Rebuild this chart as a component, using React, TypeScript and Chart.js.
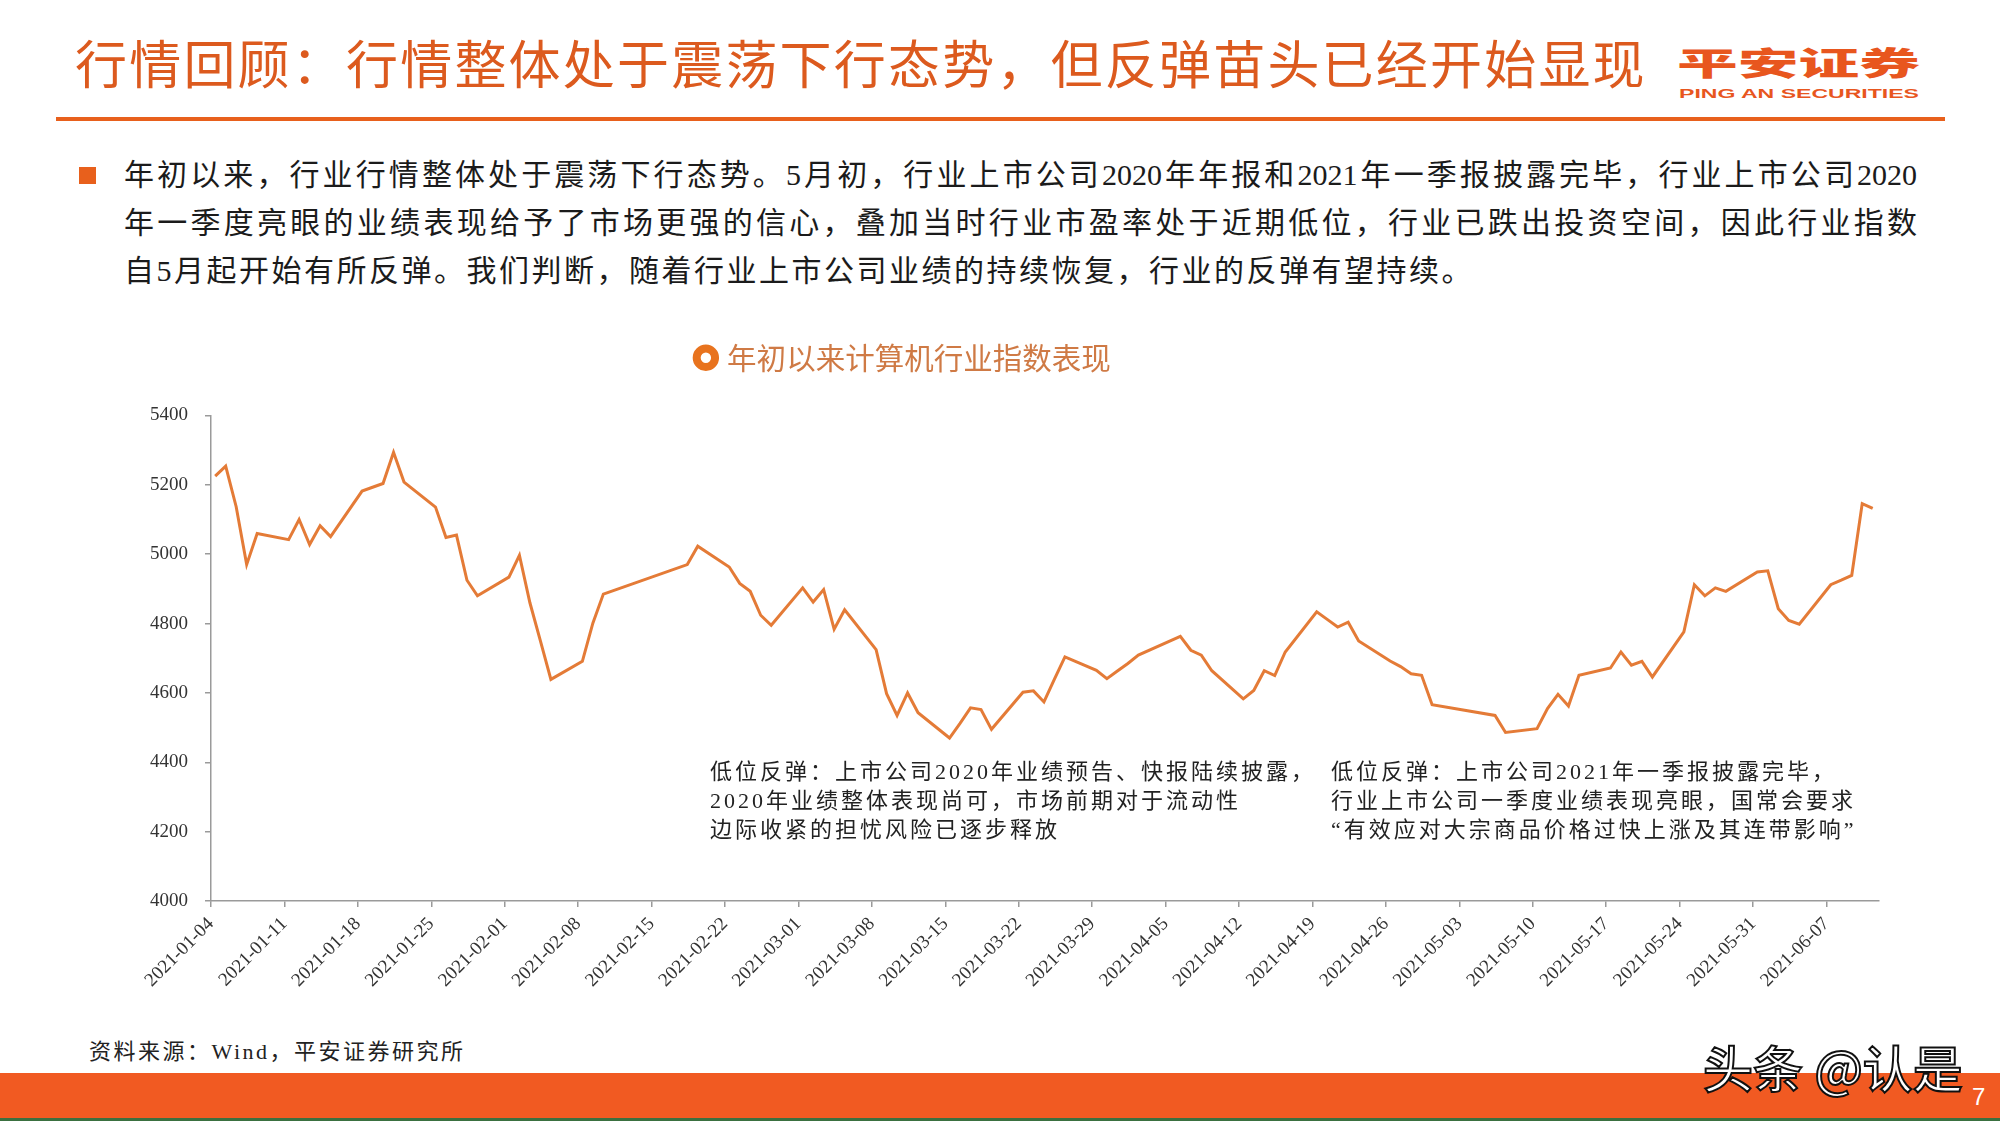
import React, { useEffect, useRef } from "react";
import { Chart, registerables } from "chart.js";

Chart.register(...registerables);

// ---------- data ----------
const seriesName = "年初以来计算机行业指数表现";

const dates = [
  "2021-01-04", "2021-01-05", "2021-01-06", "2021-01-07", "2021-01-08",
  "2021-01-11", "2021-01-12", "2021-01-13", "2021-01-14", "2021-01-15",
  "2021-01-18", "2021-01-19", "2021-01-20", "2021-01-21", "2021-01-22",
  "2021-01-25", "2021-01-26", "2021-01-27", "2021-01-28", "2021-01-29",
  "2021-02-01", "2021-02-02", "2021-02-03", "2021-02-04", "2021-02-05",
  "2021-02-08", "2021-02-09", "2021-02-10", "2021-02-18", "2021-02-19",
  "2021-02-22", "2021-02-23", "2021-02-24", "2021-02-25", "2021-02-26",
  "2021-03-01", "2021-03-02", "2021-03-03", "2021-03-04", "2021-03-05",
  "2021-03-08", "2021-03-09", "2021-03-10", "2021-03-11", "2021-03-12",
  "2021-03-15", "2021-03-16", "2021-03-17", "2021-03-18", "2021-03-19",
  "2021-03-22", "2021-03-23", "2021-03-24", "2021-03-25", "2021-03-26",
  "2021-03-29", "2021-03-30", "2021-03-31", "2021-04-01", "2021-04-02",
  "2021-04-06", "2021-04-07", "2021-04-08", "2021-04-09",
  "2021-04-12", "2021-04-13", "2021-04-14", "2021-04-15", "2021-04-16",
  "2021-04-19", "2021-04-20", "2021-04-21", "2021-04-22", "2021-04-23",
  "2021-04-26", "2021-04-27", "2021-04-28", "2021-04-29", "2021-04-30",
  "2021-05-06", "2021-05-07",
  "2021-05-10", "2021-05-11", "2021-05-12", "2021-05-13", "2021-05-14",
  "2021-05-17", "2021-05-18", "2021-05-19", "2021-05-20", "2021-05-21",
  "2021-05-24", "2021-05-25", "2021-05-26", "2021-05-27", "2021-05-28",
  "2021-05-31", "2021-06-01", "2021-06-02", "2021-06-03", "2021-06-04",
  "2021-06-07", "2021-06-08", "2021-06-09", "2021-06-10", "2021-06-11",
];

const values = [
  5225, 5254, 5137, 4970, 5060,
  5042, 5100, 5028, 5082, 5051,
  5182, 5193, 5204, 5294, 5208,
  5136, 5048, 5055, 4925, 4880,
  4934, 4997, 4860, 4750, 4639,
  4691, 4801, 4885, 4970, 5023,
  4963, 4916, 4893, 4824, 4795,
  4903, 4862, 4898, 4784, 4840,
  4725, 4598, 4535, 4600, 4543,
  4470, 4512, 4557, 4552, 4495,
  4602, 4606, 4574, 4640, 4704,
  4665, 4641, 4663, 4685, 4709,
  4763, 4723, 4709, 4664,
  4583, 4607, 4664, 4650, 4718,
  4834, 4812, 4790, 4804, 4750,
  4692, 4676, 4655, 4651, 4566,
  4535, 4486,
  4497, 4555, 4596, 4562, 4651,
  4672, 4718, 4680, 4691, 4646,
  4776, 4912, 4880, 4903, 4893,
  4949, 4952, 4843, 4809, 4798,
  4912, 4925, 4939, 5146, 5132,
];

const tickDates = [
  "2021-01-04", "2021-01-11", "2021-01-18", "2021-01-25", "2021-02-01",
  "2021-02-08", "2021-02-15", "2021-02-22", "2021-03-01", "2021-03-08",
  "2021-03-15", "2021-03-22", "2021-03-29", "2021-04-05", "2021-04-12",
  "2021-04-19", "2021-04-26", "2021-05-03", "2021-05-10", "2021-05-17",
  "2021-05-24", "2021-05-31", "2021-06-07",
];

const axisStart = "2021-01-04";
const axisEnd = "2021-06-12";
const yMin = 4000;
const yMax = 5400;
const yStep = 200;

const titleText = "行情回顾：行情整体处于震荡下行态势，但反弹苗头已经开始显现";
const paraLines = [
  "年初以来，行业行情整体处于震荡下行态势。5月初，行业上市公司2020年年报和2021年一季报披露完毕，行业上市公司2020",
  "年一季度亮眼的业绩表现给予了市场更强的信心，叠加当时行业市盈率处于近期低位，行业已跌出投资空间，因此行业指数",
  "自5月起开始有所反弹。我们判断，随着行业上市公司业绩的持续恢复，行业的反弹有望持续。",
];
const note1 = [
  "低位反弹：上市公司2020年业绩预告、快报陆续披露，",
  "2020年业绩整体表现尚可，市场前期对于流动性",
  "边际收紧的担忧风险已逐步释放",
];
const note2 = [
  "低位反弹：上市公司2021年一季报披露完毕，",
  "行业上市公司一季度业绩表现亮眼，国常会要求",
  "“有效应对大宗商品价格过快上涨及其连带影响”",
];
const sourceText = "资料来源：Wind，平安证券研究所";

// ---------- helpers ----------
const DAY = 86400000;
// daily points sit slightly inside their day slot, as in the source chart
const POINT_OFFSET = 0.4;
const dayOf = (d: string) => (Date.parse(d) - Date.parse(axisStart)) / DAY;
const fmtDay = (v: number) =>
  new Date(Date.parse(axisStart) + Math.round(v) * DAY).toISOString().slice(0, 10);

const ORANGE = "#E8601C";
const SERIF = "'Liberation Serif', 'Noto Sans CJK SC', serif";
const CJK = "'Noto Sans CJK SC', sans-serif";

const CANVAS_LEFT = -69;
const CANVAS_TOP = 289;
const CANVAS_W = 1968;
const CANVAS_H = 722;

export default function App() {
  const ref = useRef<HTMLCanvasElement>(null);

  useEffect(() => {
    if (!ref.current) return;
    const chart = new Chart(ref.current, {
      type: "line",
      data: {
        datasets: [
          {
            label: seriesName,
            data: dates.map((d, i) => ({ x: dayOf(d) + POINT_OFFSET, y: values[i] })),
            borderColor: "#E47B37",
            backgroundColor: "#ffffff",
            borderWidth: 3,
            pointRadius: 0,
            pointHoverRadius: 0,
            pointStyle: "circle",
            pointBackgroundColor: "#ffffff",
            pointBorderColor: "#E8731E",
            pointBorderWidth: 8,
            tension: 0,
            fill: false,
          },
        ],
      },
      options: {
        animation: false,
        responsive: false,
        devicePixelRatio: 1,
        layout: { padding: { top: 10, right: 20, bottom: 0, left: 0 } },
        plugins: {
          legend: {
            display: true,
            position: "top",
            align: "center",
            weight: 3000,
            labels: {
              usePointStyle: true,
              boxWidth: 13,
              boxHeight: 13,
              padding: 44,
              color: "#CF7A45",
              font: { family: CJK, size: 29.5 },
            },
          },
          title: {
            display: true,
            text: "",
            position: "top",
            font: { size: 10 },
            padding: { top: 0, bottom: 21 },
          },
          tooltip: { enabled: false },
        },
        scales: {
          x: {
            type: "linear",
            min: dayOf(axisStart),
            max: dayOf(axisEnd),
            afterBuildTicks: (scale: any) => {
              scale.ticks = tickDates.map((d) => ({ value: dayOf(d) }));
            },
            afterFit: (scale: any) => {
              scale.height = 110;
            },
            grid: {
              drawOnChartArea: false,
              drawTicks: true,
              tickLength: 6,
              color: "#9a9a9a",
              lineWidth: 1.5,
            },
            border: { display: true, color: "#9a9a9a", width: 1.5 },
            ticks: {
              autoSkip: false,
              maxRotation: 45,
              minRotation: 45,
              padding: 6,
              color: "#333333",
              font: { family: SERIF, size: 19 },
              callback: (v: any) => fmtDay(Number(v)),
            },
          },
          y: {
            min: yMin,
            max: yMax,
            afterFit: (scale: any) => {
              scale.width = 211 - CANVAS_LEFT;
            },
            grid: {
              drawOnChartArea: false,
              drawTicks: true,
              tickLength: 6,
              color: "#9a9a9a",
              lineWidth: 1.5,
            },
            border: { display: true, color: "#9a9a9a", width: 1.5 },
            ticks: {
              stepSize: yStep,
              padding: 17,
              color: "#333333",
              font: { family: SERIF, size: 19 },
              callback: (v: any) => String(v),
            },
          },
        },
      },
    });
    return () => chart.destroy();
  }, []);

  const abs = (s: React.CSSProperties): React.CSSProperties => ({ position: "absolute", ...s });

  return (
    <div
      style={{
        position: "absolute",
        left: 0,
        top: 0,
        width: 2000,
        height: 1125,
        overflow: "hidden",
        background: "#ffffff",
      }}
    >
      {/* title */}
      <div
        style={abs({
          left: 75,
          top: 36,
          fontFamily: CJK,
          fontSize: 52,
          fontWeight: 400,
          letterSpacing: 2.2,
          lineHeight: "52px",
          color: "#DC5A1E",
          whiteSpace: "nowrap",
        })}
      >
        {titleText}
      </div>

      {/* logo */}
      <svg style={abs({ left: 1670, top: 0 })} width={270} height={110}>
        <text
          x={7}
          y={75}
          textLength={243}
          lengthAdjust="spacingAndGlyphs"
          fontSize={32}
          fontWeight={900}
          fill="#E8561E"
          fontFamily="Noto Sans CJK SC"
        >
          平安证券
        </text>
        <text
          x={9}
          y={97.5}
          textLength={240}
          lengthAdjust="spacingAndGlyphs"
          fontSize={13.3}
          fontWeight={700}
          fill="#E8561E"
          fontFamily="Liberation Sans"
        >
          PING AN SECURITIES
        </text>
      </svg>

      {/* header rule */}
      <div style={abs({ left: 56, top: 117, width: 1889, height: 4, background: ORANGE })} />

      {/* bullet */}
      <div style={abs({ left: 79, top: 167, width: 17, height: 17, background: ORANGE })} />

      {/* paragraph */}
      <div
        style={abs({
          left: 124,
          top: 151,
          width: 1793,
          fontFamily: SERIF,
          fontSize: 30,
          lineHeight: "48px",
          color: "#1b1b1b",
        })}
      >
        {paraLines.map((l, i) => (
          <div
            key={i}
            style={{
              whiteSpace: "nowrap",
              textAlign: i < 2 ? "justify" : "left",
              textAlignLast: i < 2 ? "justify" : "left",
              letterSpacing: i < 2 ? 0 : 2.5,
            } as React.CSSProperties}
          >
            {l}
          </div>
        ))}
      </div>

      {/* chart */}
      <div style={abs({ left: CANVAS_LEFT, top: CANVAS_TOP, width: CANVAS_W, height: CANVAS_H })}>
        <canvas ref={ref} width={CANVAS_W} height={CANVAS_H} style={{ width: CANVAS_W, height: CANVAS_H, display: "block" }} />
      </div>

      {/* annotations */}
      <div
        style={abs({
          left: 710,
          top: 757,
          fontFamily: SERIF,
          fontSize: 22,
          lineHeight: "29px",
          letterSpacing: 3,
          color: "#222222",
          whiteSpace: "nowrap",
        })}
      >
        {note1.map((l, i) => (
          <div key={i}>{l}</div>
        ))}
      </div>
      <div
        style={abs({
          left: 1331,
          top: 757,
          fontFamily: SERIF,
          fontSize: 22,
          lineHeight: "29px",
          letterSpacing: 3,
          color: "#222222",
          whiteSpace: "nowrap",
        })}
      >
        {note2.map((l, i) => (
          <div key={i}>{l}</div>
        ))}
      </div>

      {/* source */}
      <div
        style={abs({
          left: 89,
          top: 1038,
          fontFamily: SERIF,
          fontSize: 22,
          lineHeight: "28px",
          letterSpacing: 2.5,
          color: "#222222",
          whiteSpace: "nowrap",
        })}
      >
        {sourceText}
      </div>

      {/* bottom band */}
      <div style={abs({ left: 0, top: 1073, width: 2000, height: 45, background: "#F15A22" })} />
      <div style={abs({ left: 0, top: 1118, width: 2000, height: 3, background: "#3A7040" })} />

      {/* watermark */}
      <div
        style={abs({
          left: 1703,
          top: 1036,
          fontFamily: CJK,
          fontSize: 50,
          lineHeight: "60px",
          fontWeight: 500,
          color: "#ffffff",
          WebkitTextStroke: "2px #111111",
          whiteSpace: "nowrap",
        } as React.CSSProperties)}
      >
        头条 @认是
      </div>
      <div
        style={abs({
          left: 1972,
          top: 1083,
          fontFamily: "'Liberation Sans', sans-serif",
          fontSize: 24,
          lineHeight: "28px",
          color: "#ffffff",
        })}
      >
        7
      </div>
    </div>
  );
}
